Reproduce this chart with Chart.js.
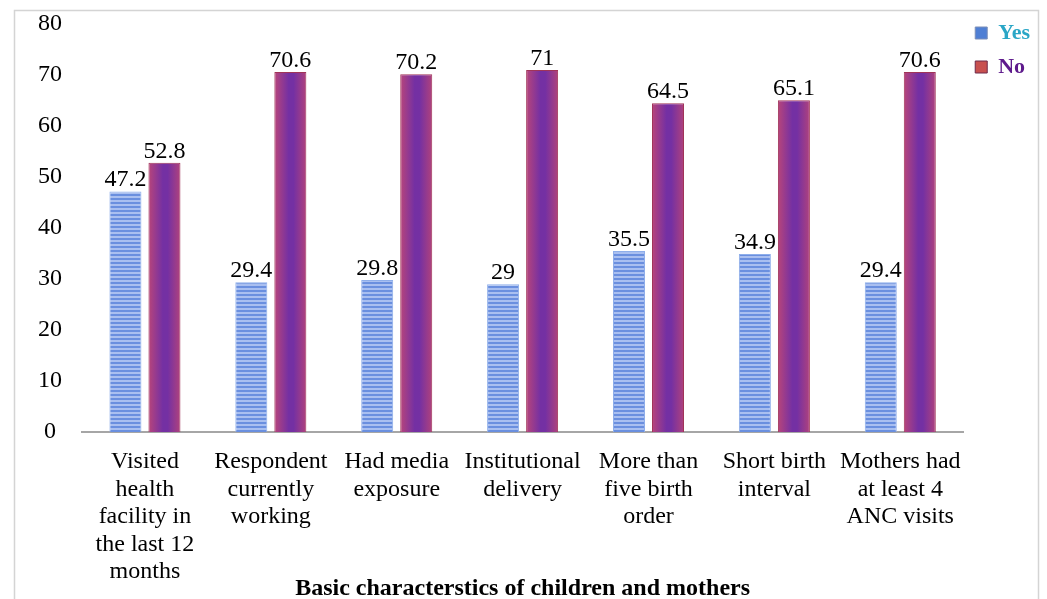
<!DOCTYPE html>
<html>
<head>
<meta charset="utf-8">
<title>Basic characterstics of children and mothers</title>
<script src="https://cdn.jsdelivr.net/npm/chart.js@4/dist/chart.umd.min.js"></script>
<style>
    html, body { margin: 0; padding: 0; background: #fff; }
    #wrap { width: 1047px; height: 599px; position: relative; }
</style>
</head>
<body>
<div id="wrap"><canvas id="chart"></canvas></div>
<script>
// 数据
const categories = [
    ['Visited', 'health', 'facility in', 'the last 12', 'months'],
    ['Respondent', 'currently', 'working'],
    ['Had media', 'exposure'],
    ['Institutional', 'delivery'],
    ['More than', 'five birth', 'order'],
    ['Short birth', 'interval'],
    ['Mothers had', 'at least 4', 'ANC visits']
];
const yesValues = [47.2, 29.4, 29.8, 29, 35.5, 34.9, 29.4];
const noValues = [52.8, 70.6, 70.2, 71, 64.5, 65.1, 70.6];
const yTicks = [0, 10, 20, 30, 40, 50, 60, 70, 80];

const SERIF = '"Liberation Serif", "Times New Roman", serif';
const CAT_PCT = 0.62;
const BAR_PCT = 0.82;

// Yes 柱子：横条纹
function makeStripes() {
    const c = document.createElement('canvas');
    c.width = 4;
    c.height = 4;
    const g = c.getContext('2d');
    g.fillStyle = '#a9bff0';
    g.fillRect(0, 0, 4, 2);
    g.fillStyle = '#6a8fdf';
    g.fillRect(0, 2, 4, 2);
    return g.createPattern(c, 'repeat');
}
const stripes = makeStripes();

// No 柱子：左右渐变，按柱子位置计算
function noFill(ctx) {
    const chart = ctx.chart;
    const x = chart.scales.x;
    if (ctx.type !== 'data' || !x || !x.width) return '#7030a0';
    const step = x.getPixelForValue(1) - x.getPixelForValue(0);
    const chunk = step * CAT_PCT / 2;
    const w = chunk * BAR_PCT;
    const cx = x.getPixelForValue(ctx.dataIndex) + chunk / 2;
    const grad = chart.ctx.createLinearGradient(cx - w / 2, 0, cx + w / 2, 0);
    grad.addColorStop(0, '#b8457a');
    grad.addColorStop(0.45, '#7430a3');
    grad.addColorStop(0.6, '#7430a3');
    grad.addColorStop(1, '#b0427c');
    return grad;
}

// 外框
const framePlugin = {
    id: 'frame',
    beforeDraw(chart) {
        const c = chart.ctx;
        c.save();
        c.fillStyle = '#fff';
        c.fillRect(0, 0, chart.width, chart.height);
        c.strokeStyle = '#d4d4d4';
        c.lineWidth = 1.5;
        c.strokeRect(14.5, 10.5, 1024, chart.height + 10);
        c.restore();
    }
};

// 柱顶数值
const valueLabels = {
    id: 'valueLabels',
    afterDatasetsDraw(chart) {
        const c = chart.ctx;
        c.save();
        c.font = '24px ' + SERIF;
        c.fillStyle = '#000';
        c.textAlign = 'center';
        c.textBaseline = 'alphabetic';
        chart.data.datasets.forEach((ds, i) => {
            chart.getDatasetMeta(i).data.forEach((bar, j) => {
                c.fillText(String(ds.data[j]), bar.x, bar.y - 5);
            });
        });
        c.restore();
    }
};

const legendColors = [
    { fill: '#4f7fd4', stroke: '#7c8fb8', text: '#2aa6c6' },
    { fill: '#c8504f', stroke: '#6e2a4a', text: '#5e1a8c' }
];

new Chart(document.getElementById('chart'), {
    type: 'bar',
    data: {
        labels: categories,
        datasets: [{
            label: 'Yes',
            data: yesValues,
            backgroundColor: stripes,
            borderColor: '#8eaeea',
            borderWidth: 1,
            categoryPercentage: CAT_PCT,
            barPercentage: BAR_PCT
        }, {
            label: 'No',
            data: noValues,
            backgroundColor: noFill,
            borderColor: '#a03458',
            borderWidth: 1,
            categoryPercentage: CAT_PCT,
            barPercentage: BAR_PCT
        }]
    },
    options: {
        responsive: true,
        maintainAspectRatio: false,
        animation: false,
        layout: { padding: { left: 18, top: 10, right: 7, bottom: 0 } },
        scales: {
            x: {
                grid: { display: false, drawTicks: false },
                border: { display: true, color: '#a6a6a6', width: 2 },
                ticks: {
                    color: '#000',
                    font: { family: SERIF, size: 24, lineHeight: 1.15 },
                    padding: 16,
                    maxRotation: 0,
                    autoSkip: false
                },
                title: {
                    display: true,
                    text: 'Basic characterstics of children and mothers',
                    color: '#000',
                    font: { family: SERIF, size: 24, weight: 'bold', lineHeight: 1 },
                    padding: { top: -25, bottom: -2 }
                }
            },
            y: {
                min: 0,
                max: 80,
                grid: { display: false, drawTicks: false },
                border: { display: false },
                afterBuildTicks(scale) {
                    scale.ticks = yTicks.map(v => ({ value: v }));
                },
                ticks: {
                    color: '#000',
                    // 行高压小，只影响上下留白
                    font: { family: SERIF, size: 24, lineHeight: 0.35 },
                    padding: 20,
                    crossAlign: 'center'
                }
            }
        },
        plugins: {
            legend: {
                position: 'right',
                align: 'start',
                labels: {
                    boxWidth: 12,
                    boxHeight: 12,
                    padding: 12,
                    font: { family: SERIF, size: 22, weight: 'bold' },
                    generateLabels(chart) {
                        return chart.data.datasets.map((ds, i) => ({
                            text: ds.label,
                            fillStyle: legendColors[i].fill,
                            strokeStyle: legendColors[i].stroke,
                            fontColor: legendColors[i].text,
                            lineWidth: 1,
                            hidden: false,
                            datasetIndex: i
                        }));
                    }
                }
            },
            tooltip: { enabled: false }
        }
    },
    plugins: [framePlugin, valueLabels]
});
</script>
</body>
</html>
